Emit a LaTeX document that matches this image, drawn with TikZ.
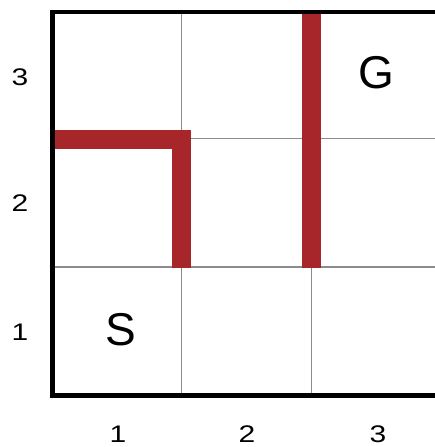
\documentclass[tikz,border=0pt]{standalone}
\usepackage{fontspec}
\setmainfont{Liberation Sans}
\definecolor{wallred}{RGB}{166,38,42}
\definecolor{gridgray}{RGB}{140,140,140}
\begin{document}
\begin{tikzpicture}[x=1pt,y=-1pt,
  gridline/.style={draw=gridgray,line width=1.3pt},
  border/.style={draw=black,line width=4.5pt},
  wall/.style={draw=wallred,line width=19pt,line cap=butt,line join=miter},
  axislabel/.style={inner sep=0pt,font=\fontsize{24}{24}\selectfont},
  celltext/.style={inner sep=0pt,font=\fontsize{46}{46}\selectfont}]
\useasboundingbox (0,0) rectangle (435,447);
\clip (0,0) rectangle (435,447);
\fill[white] (0,0) rectangle (435,447);
% grid
\coordinate (c1t) at (181.5,12);
\coordinate (c1b) at (181.5,395.5);
\coordinate (c2t) at (311.5,12);
\coordinate (c2b) at (311.5,395.5);
\coordinate (r1l) at (52.5,138.5);
\coordinate (r1r) at (441,138.5);
\coordinate (r2l) at (52.5,267);
\coordinate (r2r) at (441,267);
\draw[gridline] (c1t) -- (c1b);
\draw[gridline] (c2t) -- (c2b);
\draw[gridline] (r1l) -- (r1r);
\draw[gridline] (r2l) -- (r2r);
% walls
\coordinate (w1a) at (52.5,139);
\coordinate (w1b) at (181.5,139);
\coordinate (w1c) at (181.5,268);
\coordinate (w2a) at (311.5,12);
\coordinate (w2b) at (311.5,268);
\draw[wall] (w1a) -- (w1b) -- (w1c);
\draw[wall] (w2a) -- (w2b);
% border
\coordinate (btl) at (52.5,12);
\coordinate (bbr) at (441,395.5);
\draw[border] (btl) rectangle (bbr);
% cell labels
\node[celltext] (S) at (121,330) {S};
\node[celltext] (G) at (376,73) {G};
% axis labels
\node[axislabel] (y3) at (20,77) {\scalebox{1.25}[1]{3}};
\node[axislabel] (y2) at (20,203) {\scalebox{1.25}[1]{2}};
\node[axislabel] (y1) at (20,332) {\scalebox{1.25}[1]{1}};
\node[axislabel] (x1) at (118,434) {\scalebox{1.25}[1]{1}};
\node[axislabel] (x2) at (247,434) {\scalebox{1.25}[1]{2}};
\node[axislabel] (x3) at (378,434) {\scalebox{1.25}[1]{3}};
\end{tikzpicture}
\end{document}
